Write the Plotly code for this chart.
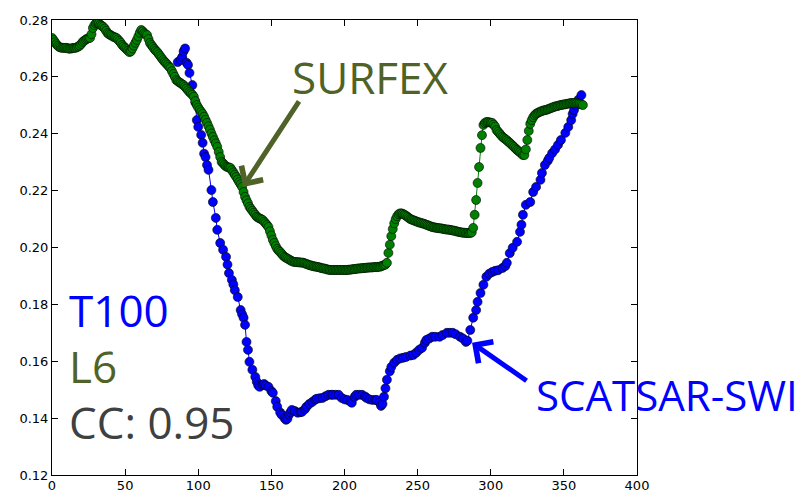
import plotly.graph_objects as go

# SURFEX (green), daily values from day 0
surfex_day = list(range(0, 364))
surfex_val = [
    0.2737, 0.2730, 0.2722, 0.2715, 0.2709, 0.2705, 0.2703, 0.2702, 0.2702, 0.2702,
    0.2702, 0.2700, 0.2699, 0.2700, 0.2701, 0.2702, 0.2702, 0.2704, 0.2707, 0.2710,
    0.2716, 0.2723, 0.2727, 0.2731, 0.2734, 0.2736, 0.2737, 0.2750, 0.2772, 0.2782,
    0.2788, 0.2790, 0.2788, 0.2783, 0.2780, 0.2776, 0.2770, 0.2762, 0.2754, 0.2750,
    0.2747, 0.2744, 0.2741, 0.2739, 0.2737, 0.2732, 0.2726, 0.2720, 0.2712, 0.2707,
    0.2702, 0.2697, 0.2692, 0.2687, 0.2690, 0.2700, 0.2710, 0.2720, 0.2730, 0.2742,
    0.2755, 0.2765, 0.2760, 0.2754, 0.2750, 0.2747, 0.2733, 0.2719, 0.2712, 0.2705,
    0.2698, 0.2692, 0.2687, 0.2680, 0.2673, 0.2666, 0.2659, 0.2653, 0.2648, 0.2642,
    0.2636, 0.2631, 0.2620, 0.2610, 0.2600, 0.2589, 0.2585, 0.2581, 0.2578, 0.2574,
    0.2571, 0.2565, 0.2559, 0.2553, 0.2547, 0.2542, 0.2537, 0.2530, 0.2515, 0.2501,
    0.2492, 0.2484, 0.2477, 0.2470, 0.2460, 0.2449, 0.2438, 0.2426, 0.2414, 0.2401,
    0.2389, 0.2377, 0.2366, 0.2354, 0.2336, 0.2318, 0.2301, 0.2296, 0.2290, 0.2285,
    0.2283, 0.2281, 0.2280, 0.2272, 0.2264, 0.2256, 0.2248, 0.2239, 0.2230, 0.2222,
    0.2213, 0.2195, 0.2178, 0.2166, 0.2155, 0.2143, 0.2136, 0.2129, 0.2122, 0.2115,
    0.2108, 0.2105, 0.2102, 0.2100, 0.2097, 0.2091, 0.2085, 0.2079, 0.2072, 0.2057,
    0.2042, 0.2027, 0.2016, 0.2005, 0.1995, 0.1989, 0.1984, 0.1978, 0.1972, 0.1967,
    0.1964, 0.1961, 0.1958, 0.1955, 0.1952, 0.1950, 0.1949, 0.1949, 0.1948, 0.1948,
    0.1947, 0.1947, 0.1946, 0.1944, 0.1942, 0.1940, 0.1938, 0.1937, 0.1935, 0.1934,
    0.1933, 0.1932, 0.1931, 0.1930, 0.1928, 0.1927, 0.1926, 0.1925, 0.1923, 0.1922,
    0.1921, 0.1921, 0.1921, 0.1921, 0.1921, 0.1921, 0.1921, 0.1921, 0.1921, 0.1921,
    0.1921, 0.1921, 0.1921, 0.1922, 0.1922, 0.1923, 0.1924, 0.1924, 0.1925, 0.1926,
    0.1926, 0.1927, 0.1927, 0.1928, 0.1928, 0.1929, 0.1929, 0.1930, 0.1930, 0.1930,
    0.1931, 0.1931, 0.1931, 0.1932, 0.1932, 0.1934, 0.1936, 0.1938, 0.1940, 0.1946,
    0.1981, 0.2010, 0.2040, 0.2065, 0.2085, 0.2100, 0.2110, 0.2117, 0.2120, 0.2120,
    0.2118, 0.2115, 0.2112, 0.2108, 0.2104, 0.2100, 0.2098, 0.2096, 0.2094, 0.2092,
    0.2090, 0.2088, 0.2087, 0.2085, 0.2084, 0.2082, 0.2080, 0.2078, 0.2076, 0.2074,
    0.2072, 0.2071, 0.2070, 0.2069, 0.2068, 0.2068, 0.2067, 0.2066, 0.2065, 0.2064,
    0.2063, 0.2063, 0.2062, 0.2061, 0.2060, 0.2059, 0.2058, 0.2056, 0.2055, 0.2054,
    0.2053, 0.2052, 0.2052, 0.2051, 0.2051, 0.2051, 0.2051, 0.2053, 0.2069, 0.2115,
    0.2167, 0.2227, 0.2283, 0.2350, 0.2395, 0.2431, 0.2438, 0.2441, 0.2441, 0.2440,
    0.2439, 0.2438, 0.2432, 0.2425, 0.2413, 0.2407, 0.2401, 0.2395, 0.2389, 0.2385,
    0.2381, 0.2377, 0.2372, 0.2368, 0.2363, 0.2358, 0.2353, 0.2348, 0.2343, 0.2339,
    0.2335, 0.2330, 0.2325, 0.2325, 0.2345, 0.2378, 0.2410, 0.2435, 0.2448, 0.2458,
    0.2465, 0.2470, 0.2473, 0.2476, 0.2478, 0.2480, 0.2482, 0.2483, 0.2484, 0.2486,
    0.2488, 0.2490, 0.2492, 0.2494, 0.2496, 0.2497, 0.2498, 0.2500, 0.2501, 0.2502,
    0.2503, 0.2504, 0.2505, 0.2506, 0.2507, 0.2508, 0.2508, 0.2508, 0.2508, 0.2507,
    0.2506, 0.2505, 0.2503, 0.2501,
]

# SCATSAR-SWI (blue)
scatsar_day = [
    86, 88, 89, 90, 91, 92, 93, 94, 96, 98, 99, 100, 102, 103, 104, 105, 106, 107,
    109, 110, 112, 113, 115, 117, 119, 120, 121, 123, 124, 125, 127, 129, 130, 131,
    132, 133, 134, 135, 137, 139, 140, 141, 142, 144, 145, 146, 148, 150, 151, 153,
    154, 156, 157, 159, 160, 161, 162, 163, 164, 166, 168, 170, 171, 173, 174, 176,
    178, 180, 181, 183, 185, 187, 189, 191, 192, 194, 196, 198, 200, 202, 204, 205,
    207, 208, 210, 212, 214, 215, 217, 219, 221, 222, 224, 225, 226, 227, 228, 229,
    231, 232, 234, 236, 238, 240, 242, 245, 247, 249, 251, 253, 255, 256, 258, 260,
    262, 265, 267, 270, 272, 274, 276, 279, 281, 283, 284, 286, 288, 290, 291, 293,
    295, 297, 299, 301, 303, 305, 308, 310, 311, 313, 315, 318, 320, 321, 322, 324,
    327, 329, 331, 334, 335, 337, 339, 340, 342, 344, 346, 348, 351, 353, 355, 356,
    357, 358, 360, 362,
]
scatsar_val = [
    0.2652, 0.2660, 0.2670, 0.2690, 0.2700, 0.2650, 0.2642, 0.2614, 0.2571, 0.2510,
    0.2448, 0.2424, 0.2396, 0.2368, 0.2330, 0.2318, 0.2290, 0.2273,
    0.2202, 0.2160, 0.2104, 0.2062, 0.2016, 0.1992, 0.1967, 0.1940, 0.1910, 0.1886,
    0.1870, 0.1850, 0.1826, 0.1780, 0.1765, 0.1753,
    0.1728, 0.1668, 0.1640, 0.1598, 0.1570, 0.1545, 0.1528, 0.1515, 0.1510, 0.1517,
    0.1520, 0.1515, 0.1510, 0.1495, 0.1489, 0.1460,
    0.1440, 0.1420, 0.1412, 0.1400, 0.1394, 0.1398, 0.1412, 0.1420, 0.1429, 0.1425,
    0.1419, 0.1421, 0.1422, 0.1432, 0.1440, 0.1450,
    0.1457, 0.1465, 0.1468, 0.1470, 0.1471, 0.1477, 0.1482, 0.1482, 0.1482, 0.1482,
    0.1482, 0.1471, 0.1466, 0.1464, 0.1458, 0.1454,
    0.1475, 0.1482, 0.1482, 0.1482, 0.1476, 0.1471, 0.1466, 0.1464, 0.1464, 0.1464,
    0.1455, 0.1443, 0.1450, 0.1475, 0.1505, 0.1535,
    0.1565, 0.1580, 0.1595, 0.1605, 0.1610, 0.1612, 0.1615, 0.1620, 0.1622, 0.1630,
    0.1640, 0.1647, 0.1665, 0.1675, 0.1680, 0.1686,
    0.1686, 0.1686, 0.1692, 0.1700, 0.1700, 0.1700, 0.1695, 0.1686, 0.1680, 0.1668,
    0.1672, 0.1710, 0.1753, 0.1780, 0.1809, 0.1840,
    0.1869, 0.1897, 0.1908, 0.1914, 0.1918, 0.1920, 0.1928, 0.1935, 0.1946, 0.1980,
    0.1999, 0.2020, 0.2055, 0.2080, 0.2115, 0.2150,
    0.2160, 0.2195, 0.2213, 0.2238, 0.2262, 0.2290, 0.2305, 0.2315, 0.2332, 0.2345,
    0.2361, 0.2378, 0.2403, 0.2424, 0.2448, 0.2470,
    0.2484, 0.2501, 0.2520, 0.2536,
]

x_ticks = [0, 50, 100, 150, 200, 250, 300, 350, 400]
y_ticks = [0.12, 0.14, 0.16, 0.18, 0.20, 0.22, 0.24, 0.26, 0.28]

OLIVE = "#4F6228"
BLUE = "#0000FF"

fig = go.Figure()
fig.add_trace(go.Scatter(
    x=scatsar_day, y=scatsar_val, mode="lines+markers",
    line=dict(color=BLUE, width=1),
    marker=dict(color=BLUE, size=9, line=dict(color="#000000", width=0.6)),
    showlegend=False,
))
fig.add_trace(go.Scatter(
    x=surfex_day, y=surfex_val, mode="lines+markers",
    line=dict(color="#008000", width=1),
    marker=dict(color="#008000", size=9, line=dict(color="#000000", width=0.6)),
    showlegend=False,
))

L, R, T, B = 52, 637, 20, 475
W, H = 807, 494

def px(xp):
    return (xp - L) / (R - L)

def py(yp):
    return (B - yp) / (B - T)

TXT_FONT = "Open Sans"
texts = [
    ("SURFEX", 290, 77, OLIVE, 44),
    ("T100", 67, 310, BLUE, 44),
    ("L6", 67, 366, OLIVE, 44),
    ("CC: 0.95", 67, 422, "#404040", 44),
    ("SCATSAR-SWI", 534, 394, BLUE, 42),
]
annotations = []
for t, xp, yp, c, fs in texts:
    annotations.append(dict(
        text=t, xref="paper", yref="paper", x=px(xp), y=py(yp),
        xanchor="left", yanchor="middle", showarrow=False,
        font=dict(family=TXT_FONT, size=fs, color=c),
    ))

# arrows
annotations.append(dict(
    text="", x=130.6, y=0.2213, xref="x", yref="y", ax=57, ay=-87,
    showarrow=True, arrowhead=4, arrowsize=1, arrowwidth=5, arrowcolor=OLIVE,
    standoff=0,
))
annotations.append(dict(
    text="", x=287.2, y=0.1665, xref="x", yref="y", ax=56, ay=39,
    showarrow=True, arrowhead=4, arrowsize=1, arrowwidth=5, arrowcolor=BLUE,
    standoff=0,
))

axis_common = dict(
    showgrid=False, zeroline=False, showline=True, linecolor="#000000",
    linewidth=1, mirror="ticks", ticks="inside", ticklen=6, tickcolor="#000000",
    tickfont=dict(family="DejaVu Sans", size=13, color="#000000"),
    automargin=False,
)

fig.update_layout(
    width=W, height=H,
    margin=dict(l=L, r=W - R, t=T, b=H - B),
    paper_bgcolor="white", plot_bgcolor="white",
    xaxis=dict(range=[0, 400], tickvals=x_ticks, ticklabelstandoff=-2, **axis_common),
    yaxis=dict(range=[0.12, 0.28], tickvals=y_ticks, tickformat=".2f", **axis_common),
    annotations=annotations,
)

fig.write_html("out.html")
